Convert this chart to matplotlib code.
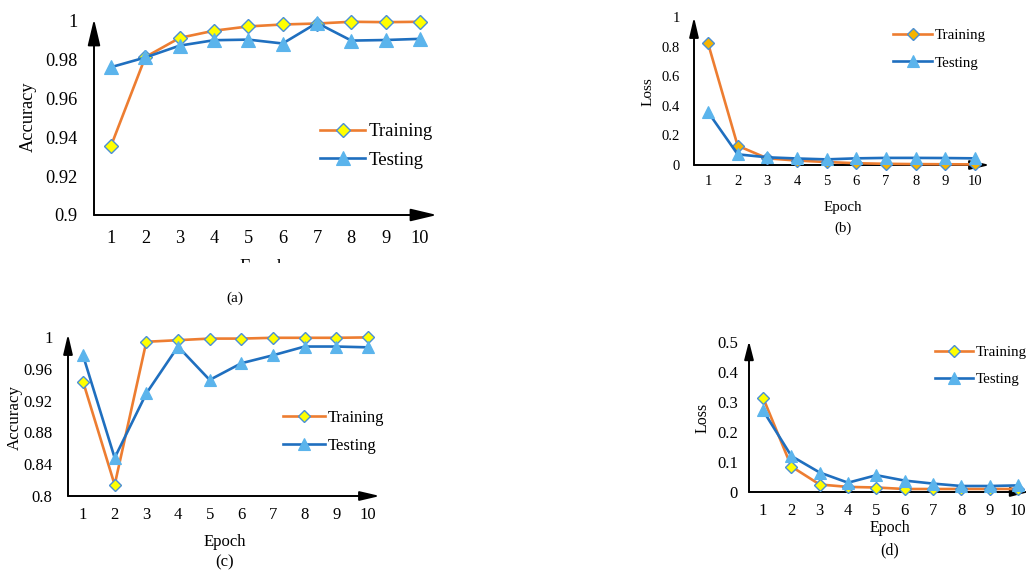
import matplotlib
matplotlib.use("Agg")
import matplotlib.pyplot as plt
from matplotlib.patches import Rectangle

plt.rcParams["font.family"] = ["Liberation Serif", "DejaVu Serif"]

W, H = 1026, 574
ORANGE = "#ED7D31"; BLUE = "#1F6FBF"; TRI = "#5BB4EC"; DEDGE = "#4A8FD4"
YEL = "#FFFF00"; GOLD = "#F5B400"

epochs = list(range(1, 11))

# (a) accuracy
acc_a_train = [0.9356, 0.9814, 0.9913, 0.9950, 0.9972, 0.9982, 0.9987, 0.9996, 0.9994, 0.9996]
acc_a_test = [0.9762, 0.9812, 0.9873, 0.9901, 0.9904, 0.9884, 0.9990, 0.9899, 0.9902, 0.9908]
# (b) loss
loss_b_train = [0.823, 0.130, 0.045, 0.030, 0.020, 0.012, 0.008, 0.006, 0.005, 0.004]
loss_b_test = [0.358, 0.072, 0.052, 0.044, 0.038, 0.045, 0.048, 0.048, 0.047, 0.045]
# (c) accuracy
acc_c_train = [0.944, 0.814, 0.994, 0.996, 0.998, 0.998, 0.999, 0.999, 0.999, 0.9995]
acc_c_test = [0.977, 0.848, 0.929, 0.988, 0.946, 0.967, 0.977, 0.988, 0.988, 0.987]
# (d) loss
loss_d_train = [0.315, 0.085, 0.025, 0.017, 0.015, 0.010, 0.010, 0.010, 0.010, 0.010]
loss_d_test = [0.272, 0.120, 0.065, 0.031, 0.056, 0.038, 0.028, 0.020, 0.020, 0.022]

yt_a = [0.9, 0.92, 0.94, 0.96, 0.98, 1.0]
yt_b = [0, 0.2, 0.4, 0.6, 0.8, 1.0]
yt_c = [0.8, 0.84, 0.88, 0.92, 0.96, 1.0]
yt_d = [0, 0.1, 0.2, 0.3, 0.4, 0.5]

fig = plt.figure(figsize=(W / 100, H / 100), dpi=100)
fig.patch.set_facecolor("white")


def panel(l, xtip, x1, x10, ybase, ytop, ytip, yticks, fs, head, xpad, ypad):
    # axes placed in pixel terms; limits chosen so the ticks land where the picture has them
    ax = fig.add_axes([l / W, 1 - ybase / H, (xtip - l) / W, (ybase - ytip) / H])
    step = (x10 - x1) / 9
    ax.set_xlim(1 - (x1 - l) / step, 10 + (xtip - x10) / step)
    per = (ybase - ytop) / (yticks[-1] - yticks[0])
    ax.set_ylim(yticks[0], yticks[-1] + (ytop - ytip) / per)
    ax.set_xticks(epochs)
    ax.set_yticks(yticks)
    ax.set_yticklabels([f"{v:g}" for v in yticks])
    ax.tick_params(length=0, labelsize=fs)
    ax.tick_params(axis="x", pad=xpad)
    ax.tick_params(axis="y", pad=ypad)
    for s in ax.spines.values():
        s.set_visible(False)
    ax.patch.set_alpha(0)
    hl, hw = head
    style = f"-|>,head_length={hl},head_width={hw}"
    for end in [(1, 0), (0, 1)]:
        ax.annotate("", xy=end, xytext=(0, 0), xycoords="axes fraction",
                    arrowprops=dict(arrowstyle=style, mutation_scale=1, color="black", lw=1.4,
                                    shrinkA=0, shrinkB=0),
                    annotation_clip=False)
    return ax


def curves(ax, tr, te, dfill, ms):
    ax.plot(epochs, tr, color=ORANGE, lw=1.9, marker="D", ms=ms, mfc=dfill, mec=DEDGE, mew=1.0,
            label="Training", clip_on=False, zorder=3)
    ax.plot(epochs, te, color=BLUE, lw=1.9, marker="^", ms=ms + 2.5, mfc=TRI, mec=TRI, mew=0.8,
            label="Testing", clip_on=False, zorder=4)


def legend(ax, x, y, fs, hlen, sp):
    ax.legend(loc="center left", bbox_to_anchor=(x / W, 1 - y / H), bbox_transform=fig.transFigure,
              frameon=False, fontsize=fs, handlelength=hlen, handletextpad=0.2, labelspacing=sp,
              borderpad=0, borderaxespad=0, numpoints=1)


def label(x, y, s, fs, rot=0):
    fig.text(x / W, 1 - y / H, s, ha="center", va="center", fontsize=fs, rotation=rot)


# (a)
ax = panel(94, 437, 111, 420, 215, 21, 19, yt_a, 13.2, (16, 3.8), 11, 12)
curves(ax, acc_a_train, acc_a_test, YEL, 7)
legend(ax, 320, 146, 13.5, 2.4, 0.6)
label(28, 117, "Accuracy", 13.2, 90)
label(235, 298, "(a)", 11)
# axis title under (a) is cut off in the source, only its top shows
fig.text(263 / W, 1 - 272.5 / H, "Epoch", ha="center", va="baseline", fontsize=13.2)
fig.add_artist(Rectangle((200 / W, 1 - 285 / H), 130 / W, 22.5 / H, transform=fig.transFigure,
                         fc="white", ec="none", zorder=10))

# (b)
ax = panel(694, 990, 708, 975, 165, 16, 17, yt_b, 10.5, (12, 2.8), 7, 10)
curves(ax, loss_b_train, loss_b_test, GOLD, 6)
legend(ax, 893, 49, 10.8, 2.6, 0.95)
label(648, 92, "Loss", 11, 90)
label(843, 207, "Epoch", 10.8)
label(843, 228, "(b)", 10.8)

# (c)
ax = panel(68, 380, 83, 368, 496, 337, 334, yt_c, 12, (12, 2.8), 8, 11)
curves(ax, acc_c_train, acc_c_test, YEL, 6.5)
legend(ax, 283, 432, 12, 2.5, 0.75)
label(15, 417, "Accuracy", 12.2, 90)
label(225, 542, "Epoch", 12)
label(225, 562, "(c)", 12)

# (d)
ax = panel(749, 1029, 763, 1018, 492, 342, 341, yt_d, 12, (11, 2.8), 8, 8)
curves(ax, loss_d_train, loss_d_test, YEL, 6.5)
legend(ax, 935, 366, 10.8, 2.55, 0.9)
label(703, 418, "Loss", 11.5, 90)
label(890, 528, "Epoch", 11.5)
label(890, 550, "(d)", 11.5)

fig.savefig("out.png", dpi=100, facecolor="white")
